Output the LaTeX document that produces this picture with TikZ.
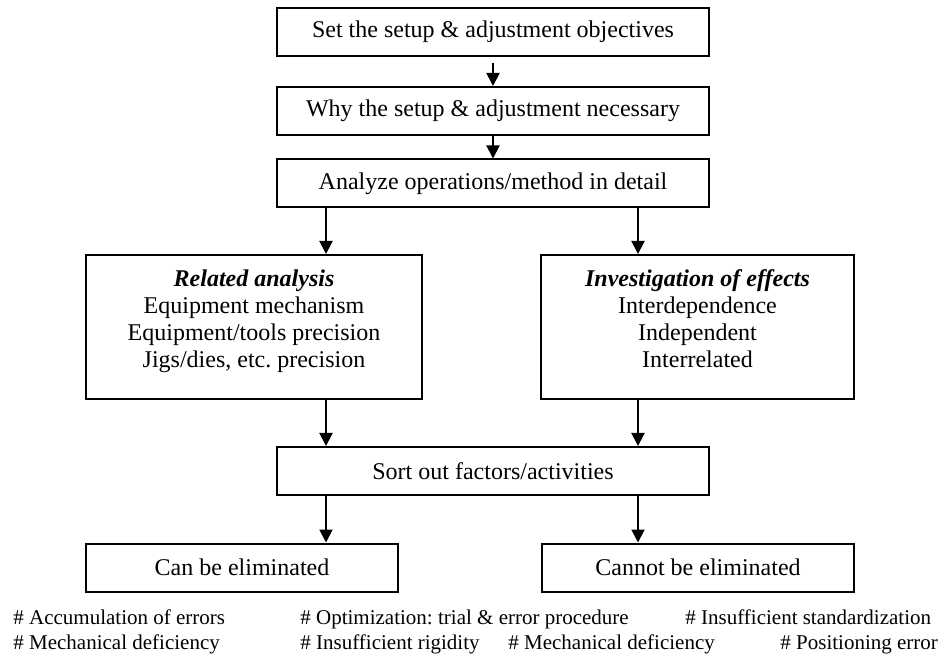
\documentclass[tikz,border=0pt]{standalone}
\usepackage{fontspec}
\setmainfont{Liberation Serif}
\usetikzlibrary{arrows.meta}
\frenchspacing
\tikzset{
  flowbox/.style={draw,line width=1pt,minimum height=24pt,inner sep=2pt,align=center,font=\fontsize{12}{13.5}\selectfont},
  arr/.style={line width=1pt,-{Triangle[width=6.5pt,length=6.5pt]}},
  note/.style={anchor=base west,inner sep=0pt,font=\fontsize{10.5}{12}\selectfont}
}

\begin{document}
\begin{tikzpicture}[x=0.5pt,y=-0.5pt]
  \useasboundingbox (0,0) rectangle (945,656);
  \coordinate (lx) at (326,0);
  \coordinate (rx) at (638,0);
  \node[flowbox,minimum width=216pt] (set) at (493,32) {Set the setup \& adjustment objectives};
  \node[flowbox,minimum width=216pt] (why) at (493,111) {Why the setup \& adjustment necessary};
  \node[flowbox,minimum width=216pt] (analyze) at (493,183.5) {Analyze operations/method in detail};
  \node[flowbox,minimum width=168pt,minimum height=72pt,text depth=8pt] (related) at (254,327)
    {\textbf{\textit{Related analysis}}\\Equipment mechanism\\Equipment/tools precision\\Jigs/dies, etc. precision};
  \node[flowbox,minimum width=156.5pt,minimum height=72pt,text depth=8pt] (effects) at (697.5,327)
    {\textbf{\textit{Investigation of effects}}\\Interdependence\\Independent\\Interrelated};
  \node[flowbox,minimum width=216pt] (sort) at (493,471) {Sort out factors/activities};
  \node[flowbox,minimum width=156pt] (can) at (242,567.5) {Can be eliminated};
  \node[flowbox,minimum width=156pt] (cannot) at (698,567.5) {Cannot be eliminated};

  \draw[arr,shorten <=3pt] (set) -- (why);
  \draw[arr] (why) -- (analyze);
  \draw[arr] (analyze.south -| lx) -- (related.north -| lx);
  \draw[arr] (analyze.south -| rx) -- (effects.north -| rx);
  \draw[arr] (related.south -| lx) -- (sort.north -| lx);
  \draw[arr] (effects.south -| rx) -- (sort.north -| rx);
  \draw[arr] (sort.south -| lx) -- (can.north -| lx);
  \draw[arr] (sort.south -| rx) -- (cannot.north -| rx);

  % notes under the boxes
  \node[note] (n1) at (13,624) {\# Accumulation of errors};
  \node[note] (n2) at (300,624) {\# Optimization: trial \& error procedure};
  \node[note] (n3) at (685,624) {\# Insufficient standardization};
  \node[note] (n4) at (13,649) {\# Mechanical deficiency};
  \node[note] (n5) at (300,649) {\# Insufficient rigidity};
  \node[note] (n6) at (508,649) {\# Mechanical deficiency};
  \node[note] (n7) at (780,649) {\# Positioning error};
\end{tikzpicture}
\end{document}
